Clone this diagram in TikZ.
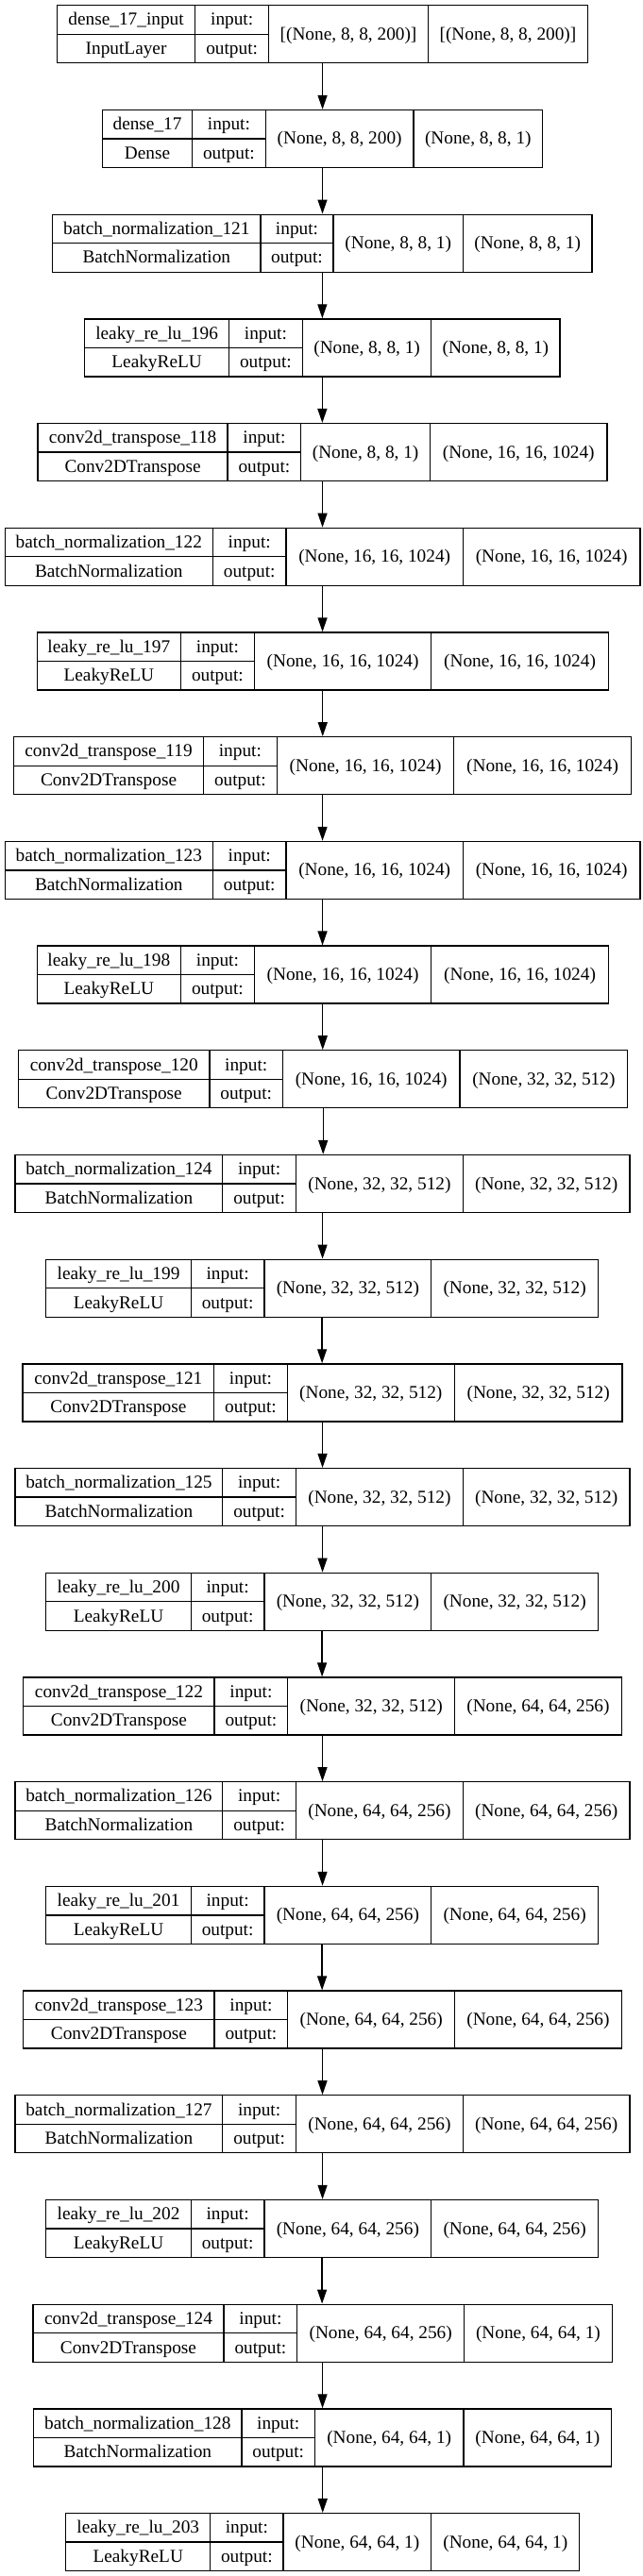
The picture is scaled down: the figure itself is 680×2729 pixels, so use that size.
\documentclass[tikz,border=0pt]{standalone}
\usepackage{fontspec}
\setmainfont{Liberation Serif}
\usetikzlibrary{arrows.meta}
\tikzset{
  lbox/.style={draw=black, line width=1.3pt, inner sep=0pt, minimum height=61pt, rectangle},
  cellline/.style={draw=black, line width=1.3pt},
  txt/.style={anchor=base, inner sep=0pt, text=black, font=\fontsize{19.3}{23}\selectfont},
  arr/.style={draw=black, line width=1.3pt, -{Triangle[length=15pt,width=10pt]}}
}
\newcommand\shp[2]{\def\inshp{#1}\def\outshp{#2}}
% #1 id, #2 index, #3..#7 x borders, #8 name, #9 class
\newcommand\lay[9]{%
  \pgfmathsetmacro\ty{5.7+110.7*#2}%
  \node[lbox, minimum width={(#7-#3)*1pt}] (#1) at ({(#3+#7)/2},{\ty+30.6}) {};
  \draw[cellline] (#3,{\ty+30.6}) -- (#5,{\ty+30.6});
  \draw[cellline] (#4,\ty) -- (#4,{\ty+61});
  \draw[cellline] (#5,\ty) -- (#5,{\ty+61});
  \draw[cellline] (#6,\ty) -- (#6,{\ty+61});
  \node[txt] (#1n) at ({(#3+#4)/2},{\ty+21.3}) {#8};
  \node[txt] (#1c) at ({(#3+#4)/2},{\ty+51.9}) {#9};
  \node[txt] (#1i) at ({(#4+#5)/2},{\ty+21.3}) {input:};
  \node[txt] (#1o) at ({(#4+#5)/2},{\ty+51.9}) {output:};
  \node[txt] (#1v) at ({(#5+#6)/2},{\ty+36.6}) {\inshp};
  \node[txt] (#1w) at ({(#6+#7)/2},{\ty+36.6}) {\outshp};
}
\begin{document}
\begin{tikzpicture}[x=1pt,y=-1pt]
\useasboundingbox[fill=white] (0,0) rectangle (680,2729);
\shp{[(None, 8, 8, 200)]}{[(None, 8, 8, 200)]}
\lay{b0}{0}{60.6}{206.6}{284.7}{453.4}{622.5}{dense\_17\_input}{InputLayer}
\shp{(None, 8, 8, 200)}{(None, 8, 8, 1)}
\lay{b1}{1}{108.5}{203.6}{281.2}{438.1}{574.5}{dense\_17}{Dense}
\shp{(None, 8, 8, 1)}{(None, 8, 8, 1)}
\lay{b2}{2}{55.8}{275.9}{353.1}{490.4}{626.9}{batch\_normalization\_121}{BatchNormalization}
\lay{b3}{3}{89.8}{242.4}{320.4}{456.8}{592.9}{leaky\_re\_lu\_196}{LeakyReLU}
\shp{(None, 8, 8, 1)}{(None, 16, 16, 1024)}
\lay{b4}{4}{40.1}{241.1}{318.7}{455.5}{643.0}{conv2d\_transpose\_118}{Conv2DTranspose}
\shp{(None, 16, 16, 1024)}{(None, 16, 16, 1024)}
\lay{b5}{5}{5.2}{225.4}{303.0}{490.4}{677.9}{batch\_normalization\_122}{BatchNormalization}
\lay{b6}{6}{39.2}{191.4}{269.4}{456.8}{644.3}{leaky\_re\_lu\_197}{LeakyReLU}
\lay{b7}{7}{14.8}{215.3}{293.4}{480.8}{668.3}{conv2d\_transpose\_119}{Conv2DTranspose}
\lay{b8}{8}{5.2}{225.4}{303.0}{490.4}{677.9}{batch\_normalization\_123}{BatchNormalization}
\lay{b9}{9}{39.2}{191.4}{269.4}{456.8}{644.3}{leaky\_re\_lu\_198}{LeakyReLU}
\shp{(None, 16, 16, 1024)}{(None, 32, 32, 512)}
\lay{b10}{10}{19.6}{221.9}{299.5}{486.9}{664.8}{conv2d\_transpose\_120}{Conv2DTranspose}
\shp{(None, 32, 32, 512)}{(None, 32, 32, 512)}
\lay{b11}{11}{16.1}{235.8}{313.4}{490.4}{667.0}{batch\_normalization\_124}{BatchNormalization}
\lay{b12}{12}{48.8}{202.3}{279.9}{456.8}{633.4}{leaky\_re\_lu\_199}{LeakyReLU}
\lay{b13}{13}{24.0}{226.7}{304.3}{481.3}{659.1}{conv2d\_transpose\_121}{Conv2DTranspose}
\lay{b14}{14}{16.1}{235.8}{313.4}{490.4}{667.0}{batch\_normalization\_125}{BatchNormalization}
\lay{b15}{15}{48.8}{202.3}{279.9}{456.8}{633.4}{leaky\_re\_lu\_200}{LeakyReLU}
\shp{(None, 32, 32, 512)}{(None, 64, 64, 256)}
\lay{b16}{16}{24.8}{227.1}{304.7}{481.7}{658.2}{conv2d\_transpose\_122}{Conv2DTranspose}
\shp{(None, 64, 64, 256)}{(None, 64, 64, 256)}
\lay{b17}{17}{16.1}{235.8}{313.4}{490.4}{667.0}{batch\_normalization\_126}{BatchNormalization}
\lay{b18}{18}{48.8}{202.3}{279.9}{456.8}{633.4}{leaky\_re\_lu\_201}{LeakyReLU}
\lay{b19}{19}{24.8}{227.1}{304.7}{481.7}{658.2}{conv2d\_transpose\_123}{Conv2DTranspose}
\lay{b20}{20}{16.1}{235.8}{313.4}{490.4}{667.0}{batch\_normalization\_127}{BatchNormalization}
\lay{b21}{21}{48.8}{202.3}{279.9}{456.8}{633.4}{leaky\_re\_lu\_202}{LeakyReLU}
\shp{(None, 64, 64, 256)}{(None, 64, 64, 1)}
\lay{b22}{22}{34.9}{237.1}{314.7}{491.7}{648.2}{conv2d\_transpose\_124}{Conv2DTranspose}
\shp{(None, 64, 64, 1)}{(None, 64, 64, 1)}
\lay{b23}{23}{35.7}{255.9}{333.5}{490.9}{647.8}{batch\_normalization\_128}{BatchNormalization}
\lay{b24}{24}{69.7}{222.8}{299.9}{456.8}{613.8}{leaky\_re\_lu\_203}{LeakyReLU}
\foreach \a [count=\b] in {0,...,23}
  \draw[arr] (b\a.south) -- (b\a.south |- b\b.north);
\end{tikzpicture}
\end{document}
